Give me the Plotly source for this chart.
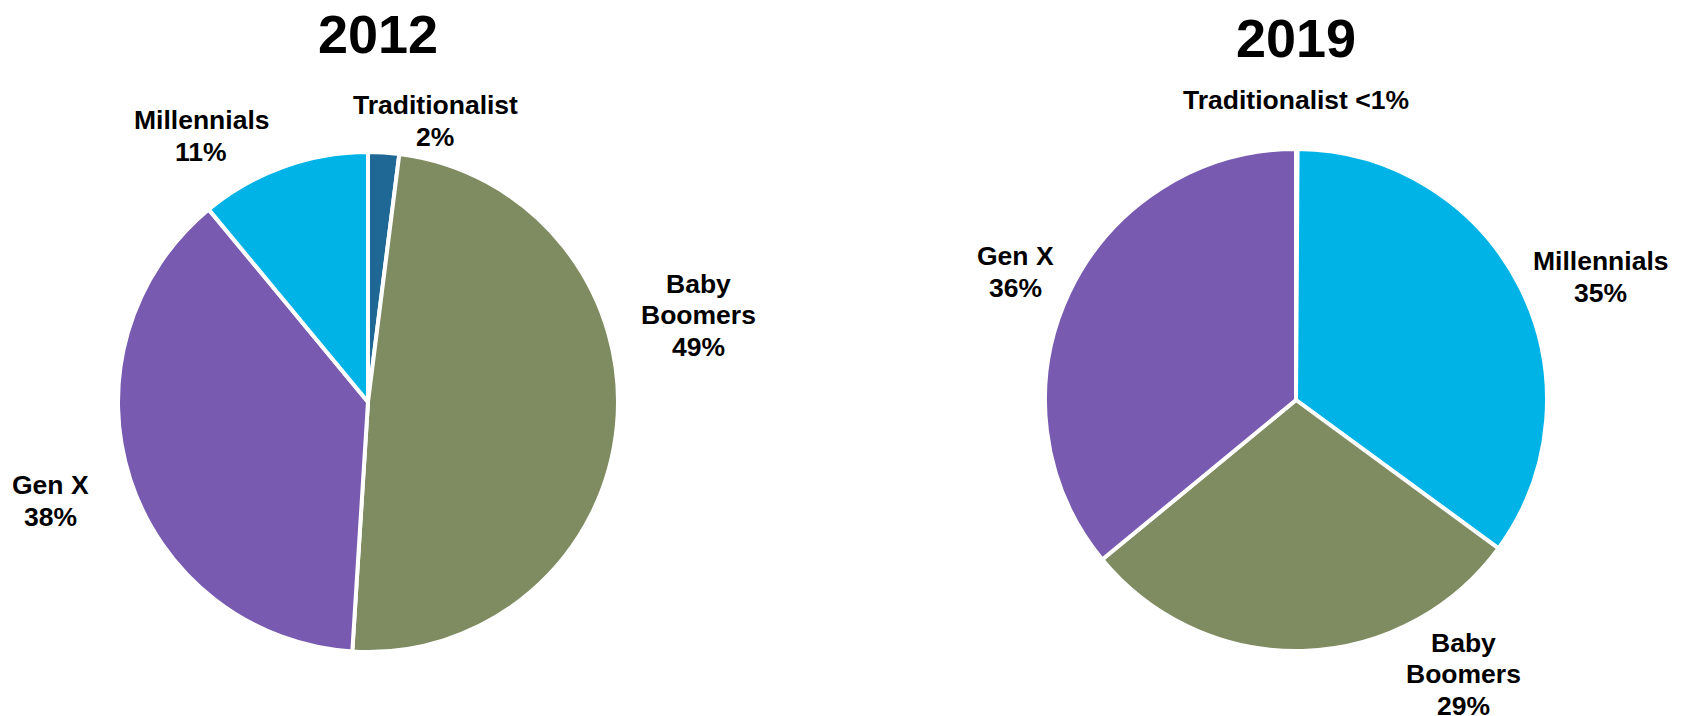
import plotly.graph_objects as go

W, H = 1684, 716
OFF = 8  # page body margin shift
LINE = 31.5  # line spacing in px

categories_2012 = ["Traditionalist", "Baby Boomers", "Gen X", "Millennials"]
values_2012 = [2, 49, 38, 11]
labels_2012 = ["Traditionalist<br>2%", "Baby<br>Boomers<br>49%", "Gen X<br>38%", "Millennials<br>11%"]

categories_2019 = ["Traditionalist", "Millennials", "Baby Boomers", "Gen X"]
values_2019 = [0.1, 35, 29, 36]
labels_2019 = ["Traditionalist <1%", "Millennials<br>35%", "Baby<br>Boomers<br>29%", "Gen X<br>36%"]

colors = {
    "Traditionalist": "#1F6896",
    "Baby Boomers": "#7F8B61",
    "Gen X": "#785BB0",
    "Millennials": "#00B3E6",
}

FONT = "Arial, Liberation Sans, sans-serif"

# label block centres in pixels (x, y from top)
pos_2012 = [(435, 121), (698, 315), (50, 501), (201, 136)]
pos_2019 = [(1296, 100), (1600, 277), (1463, 674), (1015, 272)]


def dom(cx, cy, r):
    cx -= OFF
    cy -= OFF
    return dict(x=[(cx - r) / W, (cx + r) / W], y=[1 - (cy + r) / H, 1 - (cy - r) / H])


fig = go.Figure()
fig.add_trace(go.Pie(
    labels=categories_2012, values=values_2012, sort=False, direction="clockwise", rotation=0,
    marker=dict(colors=[colors[c] for c in categories_2012], line=dict(color="white", width=4)),
    textinfo="none", hoverinfo="label+percent", domain=dom(368, 402, 250), showlegend=False,
))
fig.add_trace(go.Pie(
    labels=categories_2019, values=values_2019, sort=False, direction="clockwise", rotation=0,
    marker=dict(colors=[colors[c] for c in categories_2019], line=dict(color="white", width=4)),
    textinfo="none", hoverinfo="label+percent", domain=dom(1296, 400, 251), showlegend=False,
))

annotations = []
for txt, (x, y) in list(zip(labels_2012, pos_2012)) + list(zip(labels_2019, pos_2019)):
    lines = txt.split("<br>")
    n = len(lines)
    for i, ln in enumerate(lines):
        ly = y + (i - (n - 1) / 2) * LINE
        annotations.append(dict(
            text="<b>" + ln + "</b>", x=(x - OFF) / W, y=1 - (ly - OFF) / H, xref="paper", yref="paper",
            xanchor="center", yanchor="middle", showarrow=False, align="center",
            font=dict(family=FONT, size=26.5, color="black"),
        ))
for txt, (x, y) in [("2012", (378, 34)), ("2019", (1296, 38))]:
    annotations.append(dict(
        text="<b>" + txt + "</b>", x=(x - OFF) / W, y=1 - (y - OFF) / H, xref="paper", yref="paper",
        xanchor="center", yanchor="middle", showarrow=False,
        font=dict(family=FONT, size=54, color="black"),
    ))

fig.update_layout(
    width=W, height=H, margin=dict(l=0, r=0, t=0, b=0),
    paper_bgcolor="white", plot_bgcolor="white", annotations=annotations,
)
fig.write_html("out.html")
